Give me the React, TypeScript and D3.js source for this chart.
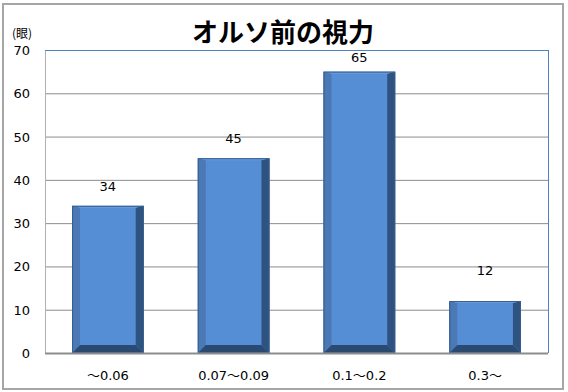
import React from 'react';
import * as d3 from 'd3';

// chart data
const categories = ['～0.06', '0.07～0.09', '0.1～0.2', '0.3～'];
const values = [34, 45, 65, 12];
const yTicks = [0, 10, 20, 30, 40, 50, 60, 70];
// label nudge (px above bar top), hand-placed like the original
const labelGap = [20, 20, 15, 31];

const W = 568;
const H = 392;
const plot = {left: 45, right: 548, top: 50, bottom: 353};
const bevel = 8;
const font = '"DejaVu Sans", "Noto Sans CJK JP", sans-serif';

const App = () => {
    const x = d3.scaleBand()
        .domain(categories)
        .range([plot.left, plot.right])
        .paddingInner(0.43)
        .paddingOuter(0.215);
    const y = d3.scaleLinear()
        .domain([0, 70])
        .range([plot.bottom, plot.top]);

    const bw = x.bandwidth();

    return (
        <div style={{position: 'fixed', left: 0, top: 0}}>
            <svg width={W} height={H} style={{display: 'block', background: '#fff'}}>
                <rect x={3} y={4} width={560} height={385} fill="#fff" stroke="#a6a6a6" strokeWidth={2} />

                {/* title + unit */}
                <text x={283} y={42} textAnchor="middle" fontSize={26} fontWeight="bold"
                    fontFamily='"Noto Sans CJK JP", sans-serif' fill="#000">オルソ前の視力</text>
                <text x={12} y={38} fontSize={12} fontFamily='"Noto Sans CJK JP", sans-serif' fill="#000">(眼)</text>

                {/* grid */}
                {yTicks.filter(t => t > 0 && t < 70).map(t => (
                    <line key={t} x1={plot.left} x2={plot.right} y1={y(t) + 0.5} y2={y(t) + 0.5}
                        stroke="#8c8c8c" strokeWidth={1} />
                ))}
                {/* plot frame */}
                <line x1={plot.left + 0.5} x2={plot.left + 0.5} y1={plot.top} y2={plot.bottom} stroke="#b0b0b0" />
                <line x1={plot.left} x2={plot.right} y1={plot.top + 0.5} y2={plot.top + 0.5} stroke="#4f81bd" />
                <line x1={plot.right + 0.5} x2={plot.right + 0.5} y1={plot.top} y2={plot.bottom} stroke="#4f81bd" />

                {/* y tick labels */}
                {yTicks.map(t => (
                    <text key={t} x={30} y={y(t) + 5} textAnchor="end" fontSize={13}
                        fontFamily={font} fill="#000">{t}</text>
                ))}

                {/* bars with bevel */}
                {values.map((v, i) => {
                    const x0 = x(categories[i]);
                    const x1 = x0 + bw;
                    const y0 = y(v);
                    const y1 = y(0);
                    const b = bevel;
                    return (
                        <g key={categories[i]}>
                            <rect x={x0} y={y0} width={bw} height={y1 - y0} fill="#558ed5" />
                            <polygon points={`${x0},${y0} ${x0 + b},${y0 + 2} ${x0 + b},${y1 - b} ${x0},${y1}`} fill="#4a79b5" />
                            <polygon points={`${x1},${y0} ${x1 - b},${y0 + 2} ${x1 - b},${y1 - b} ${x1},${y1}`} fill="#2f5380" />
                            <polygon points={`${x0},${y1} ${x0 + b},${y1 - b} ${x1 - b},${y1 - b} ${x1},${y1}`} fill="#2b4a72" />
                            <polygon points={`${x0},${y0} ${x1},${y0} ${x1 - b},${y0 + 2} ${x0 + b},${y0 + 2}`} fill="#6a9ddc" />
                            <rect x={x0 + 0.5} y={y0 + 0.5} width={bw - 1} height={y1 - y0 - 1} fill="none" stroke="#385d8a" />
                            <text x={x0 + bw / 2} y={y0 - labelGap[i] + 5} textAnchor="middle" fontSize={13}
                                fontFamily={font} fill="#000">{v}</text>
                        </g>
                    );
                })}

                {/* x axis */}
                <line x1={plot.left} x2={plot.right} y1={plot.bottom + 0.5} y2={plot.bottom + 0.5} stroke="#8c8c8c" strokeWidth={2} />
                {categories.map(c => (
                    <text key={c} x={x(c) + bw / 2} y={380} textAnchor="middle" fontSize={13}
                        fontFamily={font} fill="#000">{c}</text>
                ))}
            </svg>
        </div>
    );
};

export default App;
